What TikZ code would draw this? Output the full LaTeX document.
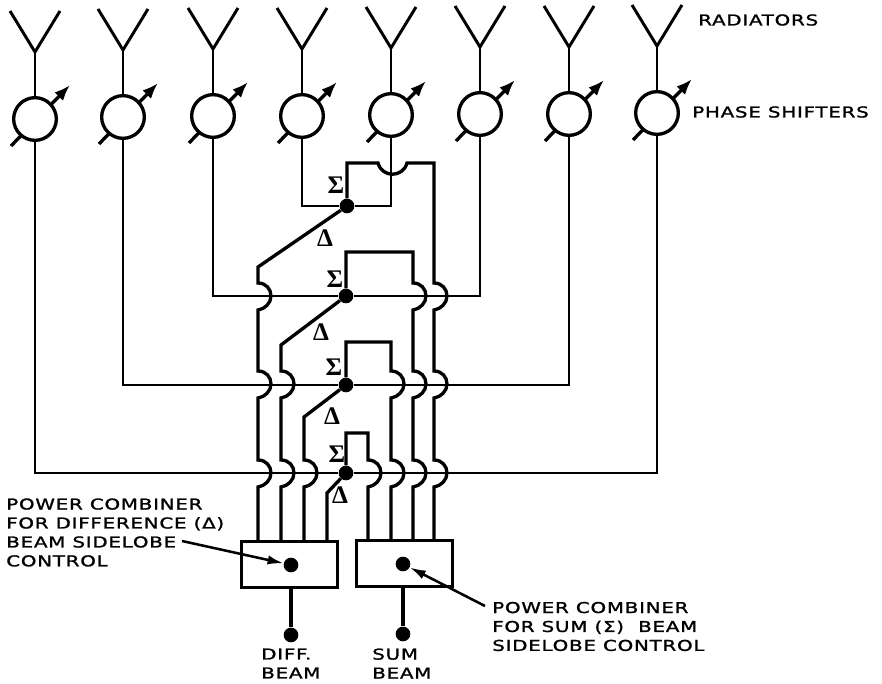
\documentclass[tikz,border=0pt]{standalone}
\usepackage{fontspec}
\usetikzlibrary{arrows.meta}
\newfontfamily\labelfont[FakeStretch=1.33,LetterSpace=5,FakeBold=1.4]{DejaVu Sans}
\newfontfamily\greekfont{Liberation Serif}
\newcommand{\hop}[2]{-- (#1,#2-13) .. controls (#1+8,#2-13) and (#1+13,#2-7) .. (#1+13,#2) .. controls (#1+13,#2+7) and (#1+7,#2+13) .. (#1,#2+14)}
\tikzset{
  radline/.style={line width=2.2pt},
  busline/.style={line width=1.9pt},
  feedline/.style={line width=2.5pt},
  shiftcircle/.style={circle, draw, fill=white, line width=2.5pt, minimum size=32pt, inner sep=0pt},
  shiftarrow/.style={line width=2.5pt, -{Latex[length=12pt,width=9pt]}},
  dot/.style={circle, fill=black, minimum size=11pt, inner sep=0pt},
  combiner/.style={draw, line width=2.4pt, minimum width=72pt, minimum height=35pt, inner sep=0pt},
  caption/.style={anchor=west, inner sep=0pt, align=left, font=\fontsize{11.2}{14.2}\labelfont},
  greek/.style={inner sep=0pt, font=\fontsize{19}{19}\greekfont\bfseries},
  pointer/.style={line width=1.9pt, -{Latex[length=12pt,width=7pt]}}
}
\begin{document}
\begin{tikzpicture}[x=0.75pt,y=-0.75pt]
  \useasboundingbox (0,0) rectangle (882,684);
  % radiators and phase shifters
  \foreach \n/\x/\y in {1/35/119,2/123/117,3/213/116,4/302/116,5/391/115,6/480/114,7/569/114,8/657/113} {
    \coordinate (rad\n) at (\x,\y-67);
    \draw[radline] (\x-25,\y-108) -- (rad\n) -- (\x+25,\y-108);
    \draw[shiftarrow] (\x-24,\y+27) -- (\x+35,\y-34);
    \node (shift\n) [shiftcircle] at (\x,\y) {};
    \draw[radline] (rad\n) -- (shift\n);
  }
  % sum/difference junctions
  \node (sumA) [dot] at (347,206) {};
  \node (sumB) [dot] at (346,296) {};
  \node (sumC) [dot] at (346,385) {};
  \node (sumD) [dot] at (346,473) {};
  \draw[busline] (shift4) |- (sumA) -| (shift5);
  \draw[busline] (shift3) |- (sumB) -| (shift6);
  \draw[busline] (shift2) |- (sumC) -| (shift7);
  \draw[busline] (shift1) |- (sumD) -| (shift8);
  % combiners
  \node (diffbox) [combiner] at (289.5,564.5) {};
  \node (sumbox) [combiner] at (404.5,563.5) {};
  \node (diffdot) [dot] at (291,565) {};
  \node (sumdot) [dot] at (403,564) {};
  \node (diffout) [dot] at (291,635) {};
  \node (sumout) [dot] at (403,634) {};
  \draw[feedline] (diffbox.south -| diffout) -- (diffout);
  \draw[feedline] (sumbox.south -| sumout) -- (sumout);
  \foreach \f/\x in {feedA/258,feedB/281,feedC/304,feedD/327} \coordinate (\f) at (\x,541);
  \foreach \f/\x in {feedE/368,feedF/391,feedG/413,feedH/434} \coordinate (\f) at (\x,540);
  % difference feeds
  \draw[feedline] (sumA) -- (258,267) \hop{258}{296} \hop{258}{384} \hop{258}{473} -- (feedA);
  \draw[feedline] (sumB) -- (281,345) \hop{281}{384} \hop{281}{473} -- (feedB);
  \draw[feedline] (sumC) -- (304,417) \hop{304}{473} -- (feedC);
  \draw[feedline] (sumD) -- (327,493) -- (feedD);
  % sum feeds
  \draw[feedline] (sumD) -- (346,433) -- (368,433) \hop{368}{473} -- (feedE);
  \draw[feedline] (sumC) -- (346,342) -- (391,342) \hop{391}{384} \hop{391}{473} -- (feedF);
  \draw[feedline] (sumB) -- (346,252) -- (413,252) \hop{413}{296} \hop{413}{384} \hop{413}{473} -- (feedG);
  \draw[feedline] (sumA) -- (347,163) -- (378,163) .. controls (382,178) and (403,178) .. (407,163) -- (434,163) \hop{434}{296} \hop{434}{384} \hop{434}{473} -- (feedH);
  % greek marks
  \foreach \m/\x/\y in {A/336/185,B/335/279,C/334/367,D/337/454}
    \node (sigma\m) [greek] at (\x,\y) {Σ};
  \foreach \m/\x/\y in {A/325/238,B/321/332,C/332/416,D/340/495}
    \node (delta\m) [greek] at (\x,\y) {Δ};
  % labels
  \node (radlabel) [caption] at (698,20) {RADIATORS};
  \node (shiftlabel) [caption] at (692,112) {PHASE SHIFTERS};
  \node (difflabel) [caption] at (6,532.5) {POWER COMBINER\\FOR DIFFERENCE (Δ)\\BEAM SIDELOBE\\CONTROL};
  \node (sumlabel) [caption] at (492,626.5) {POWER COMBINER\\FOR SUM (Σ) \ BEAM\\SIDELOBE CONTROL};
  \node (diffname) [caption] at (261,663.5) {DIFF.\\BEAM};
  \node (sumname) [caption] at (372,663.5) {SUM\\BEAM};
  \coordinate (difftail) at (182,541);
  \coordinate (sumtail) at (485,606);
  \draw[pointer] (difftail) -- (diffdot);
  \draw[pointer] (sumtail) -- (sumdot);
\end{tikzpicture}
\end{document}
